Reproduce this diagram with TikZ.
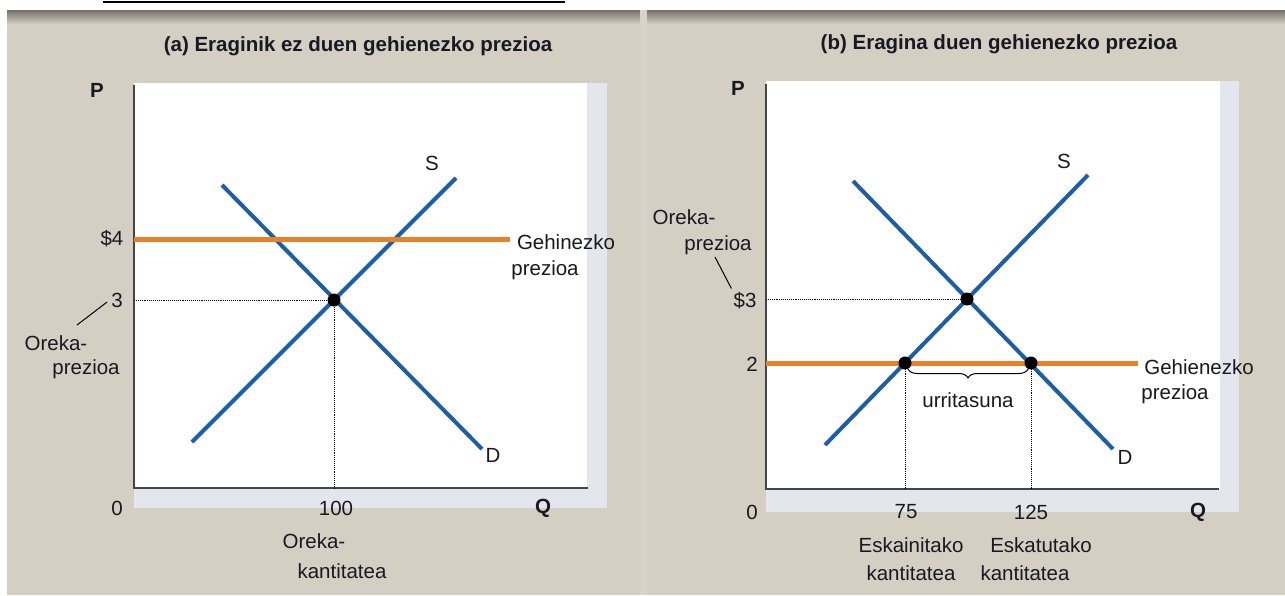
\documentclass[tikz,border=0pt]{standalone}
\usepackage{fontspec}
\setmainfont{Liberation Sans}
\usetikzlibrary{calc}
\usetikzlibrary{decorations.pathreplacing}
\definecolor{beige}{RGB}{212,206,195}
\definecolor{stripgray}{RGB}{228,230,238}
\definecolor{curveblue}{RGB}{31,93,166}
\definecolor{ceilorange}{RGB}{232,130,42}
\definecolor{axisgray}{RGB}{70,70,70}
\definecolor{inkcol}{RGB}{25,25,35}
\tikzset{
  curve/.style={curveblue,line width=4pt},
  ceiling/.style={ceilorange,line width=5pt},
  guide/.style={black,densely dotted,line width=0.9pt},
  axisline/.style={axisgray,line width=2pt},
  lbl/.style={text=inkcol,font=\fontsize{20.5}{24}\selectfont,inner sep=0pt},
  bold/.style={text=inkcol,font=\bfseries\fontsize{20.5}{24}\selectfont,inner sep=0pt},
  dot/.style={circle,fill=black,inner sep=0pt,minimum size=13pt},
}

\begin{document}
\begin{tikzpicture}[x=1pt,y=-1pt]

\useasboundingbox (0,0) rectangle (1285,595);
\fill[white] (0,0) rectangle (1285,595);
\fill[beige] (7,10) rectangle (1285,595);
\shade[top color=black!45!beige, bottom color=beige] (7,10) rectangle (1285,24);
\fill[beige!88!white] (640,10) rectangle (647,595);
\draw[black,line width=1.5pt] (103,2)--(565,2);

% (a) panel
\node[bold] (ta) at (358,46) {(a) Eraginik ez duen gehienezko prezioa};
\fill[stripgray] (134,83) rectangle (607,508);
\fill[white] (134,83) rectangle (587,487);
\coordinate (Oa) at (134,488);
\draw[axisline] (134,85)--(Oa)--(588,488);

\node[bold] (Pa) at (97,90) {P};
\node[lbl] (za) at (117,508) {0};
\node[bold] (Qa) at (543,508) {Q};

\coordinate (Sa1) at (192,442);
\coordinate (Sa2) at (456,178);
\coordinate (Da1) at (222,185);
\coordinate (Da2) at (482,449);
\draw[curve] (Sa1)--(Sa2);
\draw[curve] (Da1)--(Da2);
\node[lbl] (Sla) at (432,163) {S};
\node[lbl] (Dla) at (493,455) {D};

\draw[ceiling] (134,239)--(510,239);
\node[lbl] (p4) at (112,239) {\$4};
\node[lbl] (p3) at (117,300) {3};
\node[lbl] (gh1) at (566,242) {Gehinezko};
\node[lbl] (gh2) at (545,270) {prezioa};

\node[dot] (Ea) at (334,300) {};
\draw[guide] (Oa |- Ea)--(Ea.center)--(Ea.center |- Oa);

\node[lbl] (oa1) at (56,343) {Oreka-};
\node[lbl] (oa2) at (86,369) {prezioa};
\coordinate (la) at (77,325);
\draw[black,line width=1pt] (la)--($(p3.west)+(-4,2)$);

\node[lbl] (qa) at (336,508) {100};
\node[lbl] (ok1) at (314,541) {Oreka-};
\node[lbl] (ok2) at (342,571) {kantitatea};

% (b) panel
\node[bold] (tb) at (999,44) {(b) Eragina duen gehienezko prezioa};
\fill[stripgray] (766,81) rectangle (1239,512);
\fill[white] (766,81) rectangle (1220,489);
\coordinate (Ob) at (766,489);
\draw[axisline] (766,84)--(Ob)--(1219,489);

\node[bold] (Pb) at (738,88) {P};
\node[lbl] (zb) at (752,512) {0};
\node[bold] (Qb) at (1198,512) {Q};

\coordinate (Sb1) at (825,445);
\coordinate (Sb2) at (1088,175);
\coordinate (Db1) at (853,181);
\coordinate (Db2) at (1113,449);
\draw[curve] (Sb1)--(Sb2);
\draw[curve] (Db1)--(Db2);
\node[lbl] (Slb) at (1064,161) {S};
\node[lbl] (Dlb) at (1125,457) {D};

\draw[ceiling] (766,363)--(1138,363);
\node[dot] (Eb) at (967,299) {};
\node[dot] (Lb) at (905,363) {};
\node[dot] (Rb) at (1031,363) {};
\draw[guide] (Ob |- Eb)--(Eb.center);
\draw[guide] (Lb.center)--(Lb.center |- Ob);
\draw[guide] (Rb.center)--(Rb.center |- Ob);

\node[lbl] (pb3) at (745,301) {\$3};
\node[lbl] (pb2) at (752,364) {2};
\node[lbl] (gb1) at (1199,367) {Gehienezko};
\node[lbl] (gb2) at (1175,394) {prezioa};

\node[lbl] (ob1) at (684,217) {Oreka-};
\node[lbl] (ob2) at (718,245) {prezioa};
\coordinate (lb) at (715,257);
\draw[black,line width=1pt] (lb)--($(pb3.north west)+(-2,-4)$);

\draw[black,line width=1pt,decorate,decoration={brace,amplitude=9pt,mirror}]
  ($(Lb)+(3,6)$)--($(Rb)+(-3,6)$);
\node[lbl] (ur) at (968,400) {urritasuna};

\node[lbl] (q75) at (906,512) {75};
\node[lbl] (q125) at (1031,512) {125};
\node[lbl] (es1) at (911,545) {Eskainitako};
\node[lbl] (es2) at (911,573) {kantitatea};
\node[lbl] (ek1) at (1041,545) {Eskatutako};
\node[lbl] (ek2) at (1025,573) {kantitatea};

\end{tikzpicture}
\end{document}
